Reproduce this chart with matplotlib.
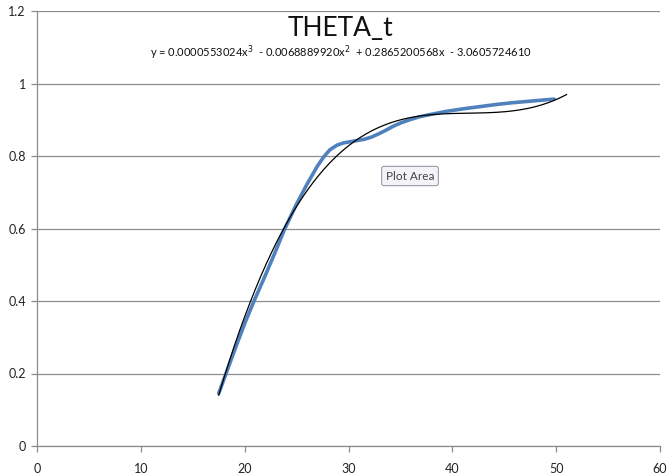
import matplotlib
matplotlib.use("Agg")
import matplotlib.pyplot as plt
import numpy as np

plt.rcParams["font.family"] = ["Lato", "DejaVu Sans"]

theta_x = [17.5, 18.4, 19.3, 20.1, 20.9, 21.9, 22.9, 23.8, 24.9, 26.0, 27.0, 27.6,
           28.2, 28.9, 29.5, 30.5, 31.5, 32.2, 32.9, 33.6, 34.3, 35.1, 35.9, 36.8,
           37.8, 39.4, 41.0, 42.6, 44.2, 45.8, 47.4, 49.0, 49.8]
theta_y = [0.145, 0.215, 0.285, 0.345, 0.40, 0.465, 0.532, 0.595, 0.662, 0.722, 0.772, 0.797,
           0.817, 0.830, 0.836, 0.841, 0.846, 0.852, 0.861, 0.871, 0.882, 0.892, 0.90, 0.908,
           0.914, 0.923, 0.930, 0.936, 0.942, 0.947, 0.951, 0.955, 0.957]

# cubic trendline as printed on the chart
trend_coefs = [0.0000553024, -0.0068889920, 0.2865200568, -3.0605724610]
trend_range = [17.5, 51.0]

title = "THETA_t"
equation = (r"y = 0.0000553024x$^3$  - 0.0068889920x$^2$  + 0.2865200568x  - 3.0605724610")

fig = plt.figure(figsize=(6.7, 4.75), dpi=100)
ax = fig.add_axes([37 / 670, 1 - 446 / 475, 623 / 670, 435 / 475])

ax.plot(theta_x, theta_y, color="#4F81BD", lw=2.6, solid_capstyle="round",
        solid_joinstyle="round", zorder=3)
tx = np.linspace(trend_range[0], trend_range[1], 200)
ax.plot(tx, np.polyval(trend_coefs, tx), color="black", lw=0.9, zorder=4)

ax.set_xlim(0, 60)
ax.set_ylim(0, 1.2)
ax.set_xticks(np.arange(0, 61, 10))
ax.set_yticks(np.arange(0, 1.21, 0.2))
ax.set_yticklabels(["0", "0.2", "0.4", "0.6", "0.8", "1", "1.2"])
ax.yaxis.grid(True, color="#8c8c8c", lw=0.9)
ax.set_axisbelow(True)
for s in ["top", "right"]:
    ax.spines[s].set_visible(False)
for s in ["left", "bottom"]:
    ax.spines[s].set_color("#8c8c8c")
    ax.spines[s].set_linewidth(0.9)
ax.tick_params(direction="out", length=4, width=0.9, color="#8c8c8c",
               labelsize=9, labelcolor="#222222", pad=4)
ax.tick_params(axis="x", pad=8)

fig.text(341 / 670, 1 - 28 / 475, title, ha="center", va="center", fontsize=19,
         color="#111111")
fig.text(341 / 670, 1 - 53 / 475, equation, ha="center", va="center", fontsize=8,
         color="#111111")

fig.text(410 / 670, 1 - 176 / 475, "Plot Area", ha="center", va="center", fontsize=8.5,
         color="#444444",
         bbox=dict(boxstyle="round,pad=0.35,rounding_size=0.2", fc="#f4f4f8",
                   ec="#9a9aa8", lw=0.8))

fig.savefig("out.png", dpi=100, facecolor="white")
